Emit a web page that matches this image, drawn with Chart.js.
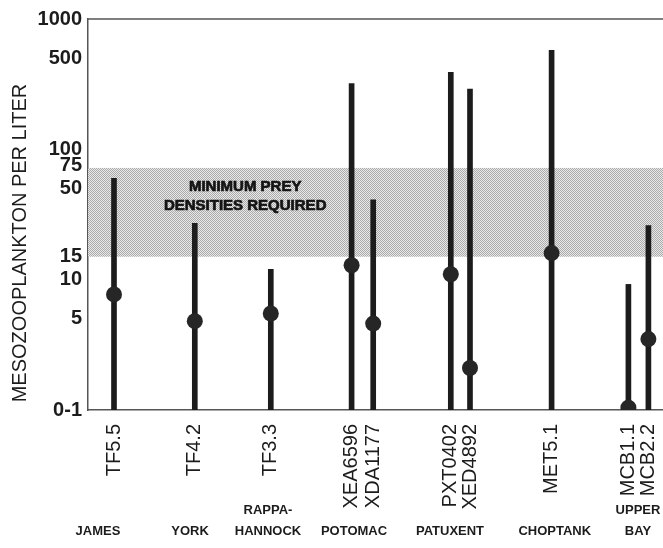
<!DOCTYPE html>
<html>
<head>
<meta charset="utf-8">
<script src="https://cdn.jsdelivr.net/npm/chart.js@4.4.0/dist/chart.umd.min.js"></script>
<style>
html, body { margin: 0; padding: 0; background: #fff; }
#wrap { width: 663px; height: 548px; }
</style>
</head>
<body>
<div id="wrap"><canvas id="plot"></canvas></div>
<script>
// stations and their place along the bay (x units)
const stations = ['TF5.5', 'TF4.2', 'TF3.3', 'XEA6596', 'XDA1177', 'PXT0402', 'XED4892', 'MET5.1', 'MCB1.1', 'MCB2.2'];
const stationX = [1, 2.01, 2.96, 3.97, 4.24, 5.21, 5.45, 6.47, 7.43, 7.68];
// mesozooplankton per liter: range and typical value
const lowVal = [1, 1, 1, 1, 1, 1, 1, 1, 1, 1];
const highVal = [60, 27, 12, 320, 41, 390, 290, 575, 9.2, 26];
const midVal = [7.7, 4.8, 5.5, 12.9, 4.6, 11, 2.1, 16, 1.04, 3.5];
// rivers
const regions = ['JAMES', 'YORK', 'RAPPA-|HANNOCK', 'POTOMAC', 'PATUXENT', 'CHOPTANK', 'UPPER|BAY'];
const regionX = [0.8, 1.95, 2.925, 4.0, 5.2, 6.51, 7.55];
const yTicks = [1, 5, 10, 15, 50, 75, 100, 500, 1000];
const preyBand = [15, 72];

const ctx = document.getElementById('plot');

function stipple() {
    var c = document.createElement('canvas');
    c.width = 2; c.height = 2;
    var g = c.getContext('2d');
    g.fillStyle = '#e8e8e8';
    g.fillRect(0, 0, 2, 2);
    g.fillStyle = '#ababab';
    g.fillRect(0, 0, 1, 1);
    g.fillRect(1, 1, 1, 1);
    return c;
}

const bayPlugin = {
    id: 'bay',
    beforeDatasetsDraw(chart) {
        const c = chart.ctx, a = chart.chartArea, y = chart.scales.y, x = chart.scales.x;
        const top = y.getPixelForValue(preyBand[1]);
        const bot = y.getPixelForValue(preyBand[0]);
        c.save();
        c.fillStyle = c.createPattern(stipple(), 'repeat');
        c.fillRect(a.left, top, a.right - a.left, bot - top);
        // band caption, a bit heavier than plain bold
        c.fillStyle = '#141414';
        c.strokeStyle = '#141414';
        c.lineWidth = 0.7;
        c.font = 'bold 15px "Liberation Sans"';
        c.textAlign = 'center';
        c.textBaseline = 'middle';
        const cx = x.getPixelForValue(2.64);
        c.fillText('MINIMUM PREY', cx, top + 19);
        c.strokeText('MINIMUM PREY', cx, top + 19);
        c.fillText('DENSITIES REQUIRED', cx, top + 38);
        c.strokeText('DENSITIES REQUIRED', cx, top + 38);
        c.restore();
    },
    afterDraw(chart) {
        const c = chart.ctx, a = chart.chartArea, x = chart.scales.x;
        c.save();
        // top frame line
        c.strokeStyle = '#555';
        c.lineWidth = 1.5;
        c.beginPath();
        c.moveTo(a.left, a.top);
        c.lineTo(a.right, a.top);
        c.stroke();
        // y title
        c.fillStyle = '#1c1c1c';
        c.font = '20px "Liberation Sans"';
        c.textAlign = 'center';
        c.textBaseline = 'middle';
        c.translate(20, 243);
        c.rotate(-Math.PI / 2);
        c.fillText('MESOZOOPLANKTON PER LITER', 0, 0);
        c.restore();
        // river names
        c.save();
        c.fillStyle = '#1c1c1c';
        c.font = 'bold 13px "Liberation Sans"';
        c.textAlign = 'center';
        c.textBaseline = 'middle';
        regions.forEach(function (r, i) {
            const px = x.getPixelForValue(regionX[i]);
            const parts = r.split('|');
            if (parts.length > 1) {
                c.fillText(parts[0], px, 510);
                c.fillText(parts[1], px, 531);
            } else {
                c.fillText(parts[0], px, 531);
            }
        });
        c.restore();
    }
};

var chart = new Chart(ctx, {
    type: 'bar',
    data: {
        datasets: [{
            type: 'scatter',
            data: stationX.map((v, i) => ({ x: v, y: midVal[i] })),
            pointRadius: 8,
            pointBackgroundColor: '#262626',
            pointBorderWidth: 0,
            order: 0
        }, {
            type: 'bar',
            data: stationX.map((v, i) => ({ x: v, y: [lowVal[i], highVal[i]] })),
            backgroundColor: '#1c1c1c',
            barThickness: 5,
            order: 1
        }]
    },
    options: {
        responsive: true,
        maintainAspectRatio: false,
        animation: false,
        layout: { autoPadding: false, padding: { top: 19, right: 0, left: 0, bottom: 0 } },
        plugins: {
            legend: { display: false },
            tooltip: { enabled: false }
        },
        scales: {
            x: {
                type: 'linear',
                offset: false,
                min: 0.675,
                max: 7.8625,
                grid: { display: false, drawTicks: false },
                border: { display: true, color: '#555', width: 1.5 },
                afterBuildTicks: (axis) => { axis.ticks = stationX.map(v => ({ value: v })); },
                afterFit: (axis) => { axis.height = 138; axis.paddingLeft = 0; axis.paddingRight = 0; },
                ticks: {
                    autoSkip: false,
                    minRotation: 90,
                    maxRotation: 90,
                    padding: 14,
                    color: '#1c1c1c',
                    font: { family: 'Liberation Sans', size: 20 },
                    callback: (v, i) => stations[i]
                }
            },
            y: {
                type: 'logarithmic',
                min: 1,
                max: 1000,
                grid: { display: false, drawTicks: false },
                border: { display: true, color: '#555', width: 1.5 },
                afterBuildTicks: (axis) => { axis.ticks = yTicks.map(v => ({ value: v })); },
                afterFit: (axis) => { axis.width = 88; axis.paddingTop = 0; axis.paddingBottom = 0; },
                ticks: {
                    padding: 6,
                    color: '#1c1c1c',
                    font: { family: 'Liberation Sans', size: 20, weight: 'bold' },
                    callback: (v) => v === 1 ? '0-1' : String(v)
                }
            }
        }
    },
    plugins: [bayPlugin]
});
</script>
</body>
</html>
